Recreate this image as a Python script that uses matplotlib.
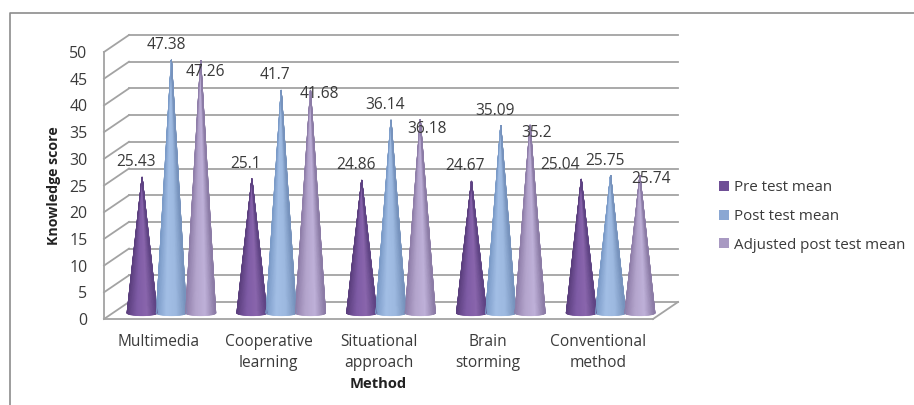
import numpy as np
from matplotlib import pyplot as plt
from matplotlib import transforms
from matplotlib.colors import LinearSegmentedColormap
from matplotlib.lines import Line2D
from matplotlib.patches import Patch

methods = ["Multimedia", "Cooperative\nlearning", "Situational\napproach",
           "Brain\nstorming", "Conventional\nmethod"]
series_names = ["Pre test mean", "Post test mean", "Adjusted post test mean"]
pre_test = [25.43, 25.1, 24.86, 24.67, 25.04]
post_test = [47.38, 41.7, 36.14, 35.09, 25.75]
adjusted = [47.26, 41.68, 36.18, 35.2, 25.74]
y_ticks = list(range(0, 55, 5))

# label nudges in pixels, the chart had them dragged by hand
pre_nudge = [(-6, 15), (-6, 15), (-6, 15), (-7, 15), (-21, 14)]
post_nudge = [(-5, 15), (-6, 15), (-6, 15), (-6, 15), (-6, 14)]
adj_nudge = [(5, -11), (9, -4), (7, -9), (6, -8), (11, -3)]

cone_cols = [["#5b3f7e", "#7f5ca6", "#8a66ad", "#5f4484"],
             ["#7b9bc8", "#a2bee5", "#9db9e0", "#7793bd"],
             ["#8f7ea9", "#b4a5cd", "#bfb1d9", "#8c7ca6"]]
swatches = ["#6f4f96", "#8aa7d3", "#a899c2"]
grid_col = "#a3a3a3"
text_col = "#3a3a3a"
font = "Open Sans"

W, H = 914, 405
plt.rcParams["font.family"] = font
fig = plt.figure(figsize=(W / 100, H / 100), dpi=100)
ax = fig.add_axes([104 / W, 1 - 319 / H, 549 / W, 267 / H])
ax.set_xlim(-0.5, 4.5)
ax.set_ylim(0, 50)
ax.patch.set_alpha(0)

# depth shifts: cones stand mid floor, grid is on the back wall
mid = transforms.offset_copy(ax.transData, fig, x=12.5, y=6, units="dots")
back = transforms.offset_copy(ax.transData, fig, x=25, y=17, units="dots")

for v in y_ticks:
    ax.plot([-0.5, 4.5], [v, v], color=grid_col, lw=1.3, transform=back,
            clip_on=False, zorder=1)
    ax.plot([-0.5, -0.5 + 25 / 109.8], [v, v + 17 / 5.34], color=grid_col, lw=1.3,
            clip_on=False, zorder=1)
ax.plot([4.5, 4.5 + 25 / 109.8], [0, 17 / 5.34], color=grid_col, lw=1.3,
        clip_on=False, zorder=1)


def draw_cone(cx, height, cols):
    half = 15 / 109.8
    flat = 2.6 / 5.34
    cmap = LinearSegmentedColormap.from_list("cone", cols)
    ang = np.linspace(0, np.pi, 41)
    t = np.array([0.0, 1.0])
    rim_x = -half * np.cos(ang)
    rim_y = -flat * np.sin(ang)
    X = cx + np.outer(1 - t, rim_x)
    Y = np.outer(t, np.full_like(ang, height)) + np.outer(1 - t, rim_y)
    C = np.tile((1 - np.cos(ang)) / 2, (2, 1))
    ax.pcolormesh(X, Y, C, shading="gouraud", cmap=cmap, vmin=0, vmax=1,
                  transform=mid, clip_on=False, zorder=3)
    # gouraud edges are not antialiased, so trace them
    ax.plot([cx - half, cx], [0, height], color=cols[0], lw=0.7, transform=mid,
            clip_on=False, zorder=4)
    ax.plot([cx + half, cx], [0, height], color=cols[-1], lw=0.7, transform=mid,
            clip_on=False, zorder=4)


all_series = [pre_test, post_test, adjusted]
all_nudges = [pre_nudge, post_nudge, adj_nudge]
gap = 29.3 / 109.8
for s, vals in enumerate(all_series):
    for i, v in enumerate(vals):
        cx = i + (s - 1) * gap
        draw_cone(cx, v, cone_cols[s])
        ax.annotate(str(v), xy=(cx, v), xycoords=mid,
                    xytext=all_nudges[s][i], textcoords="offset pixels",
                    ha="center", va="center", fontsize=11.2, color=text_col,
                    annotation_clip=False, zorder=5)

for side in ["top", "right"]:
    ax.spines[side].set_visible(False)
for side in ["left", "bottom"]:
    ax.spines[side].set_color(grid_col)
    ax.spines[side].set_linewidth(1.3)
ax.set_yticks(y_ticks)
ax.set_xticks(range(5))
ax.set_xticklabels(methods, linespacing=1.4)
ax.tick_params(axis="y", length=0, pad=12, labelsize=11.4, labelcolor=text_col)
ax.tick_params(axis="x", length=0, pad=11, labelsize=11.2, labelcolor=text_col)

fig.text(54 / W, 1 - 186 / H, "Knowledge score", rotation=90, ha="center", va="center",
         fontsize=10.2, fontweight="bold", color="#222222")
fig.text(378.5 / W, 1 - 384 / H, "Method", ha="center", va="center",
         fontsize=10.6, fontweight="bold", color="#222222")

handles = [Patch(facecolor=c, edgecolor="none") for c in swatches]
ax.legend(handles, series_names, loc="center left",
          bbox_to_anchor=(719 / W, 1 - 216.5 / H), bbox_transform=fig.transFigure,
          frameon=False, fontsize=10.9, labelcolor=text_col, borderpad=0, borderaxespad=0,
          handlelength=0.65, handleheight=0.65, handletextpad=0.33, labelspacing=0.9)

# outer chart frame, open on the right and at the bottom
fig.add_artist(Line2D([10 / W, 10 / W, 1], [0, 1 - 13 / H, 1 - 13 / H],
                      color="#8c8c8c", lw=1.2))

fig.savefig("out.png", dpi=100)
